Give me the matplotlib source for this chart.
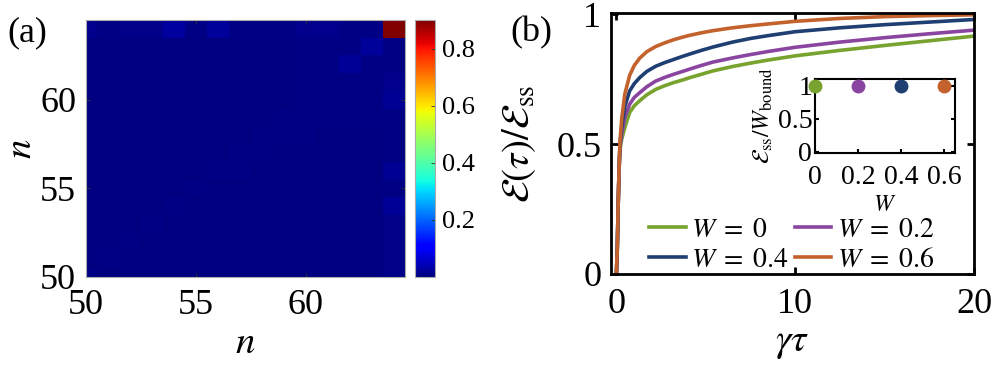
import numpy as np
import matplotlib
matplotlib.use("Agg")
import matplotlib.pyplot as plt

plt.rcParams['font.family'] = ['Liberation Serif', 'DejaVu Serif']
plt.rcParams['mathtext.fontset'] = 'stix'

# ---- panel (a): heat map, n = 50..64 on both axes ----
n_vals = np.arange(50, 65)
# rows listed from n = 64 (top) down to n = 50 (bottom), values x 1e-3
heat_rows_top_down = [
    [12, 4, 10, 10, 28, 4, 24, 5, 5, 6, 12, 12, 6, 6, 900],
    [3, 3, 3, 3, 3, 3, 3, 3, 3, 3, 4, 4, 5, 22, 6],
    [3, 3, 3, 3, 3, 3, 3, 3, 3, 3, 4, 4, 20, 5, 6],
    [3, 3, 3, 3, 3, 3, 3, 3, 3, 3, 4, 6, 5, 4, 12],
    [3, 3, 3, 3, 3, 3, 3, 3, 3, 3, 6, 5, 4, 4, 15],
    [3, 3, 3, 3, 3, 3, 3, 3, 3, 5, 5, 4, 4, 4, 7],
    [3, 3, 3, 3, 3, 3, 3, 3, 5, 4, 4, 3, 3, 3, 5],
    [3, 3, 3, 3, 3, 3, 3, 5, 4, 3, 3, 3, 3, 3, 5],
    [3, 3, 3, 3, 3, 3, 5, 4, 3, 3, 3, 3, 3, 3, 15],
    [3, 3, 3, 3, 3, 4, 3, 3, 3, 3, 3, 3, 3, 3, 6],
    [3, 3, 3, 3, 4, 3, 3, 3, 3, 3, 3, 3, 3, 3, 20],
    [3, 3, 3, 4, 3, 3, 3, 3, 3, 3, 3, 3, 3, 3, 8],
    [3, 3, 4, 3, 3, 3, 3, 3, 3, 3, 3, 3, 3, 3, 10],
    [3, 4, 3, 3, 3, 3, 3, 3, 3, 3, 3, 3, 3, 3, 8],
    [4, 3, 3, 3, 3, 3, 3, 3, 3, 3, 3, 3, 3, 3, 8],
]
cbar_ticks = [0.2, 0.4, 0.6, 0.8]

# ---- panel (b): E(tau)/E_ss vs gamma*tau ----
gamma_tau = [0, 0.05, 0.1, 0.15, 0.2, 0.3, 0.47, 0.74, 1.0, 1.3, 1.7, 2.2, 2.7, 3.2, 3.7, 4.1,
             4.7, 5.4, 6.5, 7.5, 8.5, 10, 12.5, 15, 17.5, 20]
E_W0 = [0, 0.1, 0.27, 0.40, 0.48, 0.52, 0.564, 0.622, 0.648, 0.667, 0.690, 0.711, 0.725, 0.737, 0.747, 0.756,
        0.768, 0.782, 0.799, 0.812, 0.824, 0.840, 0.861, 0.880, 0.898, 0.916]
E_W02 = [0, 0.1, 0.27, 0.40, 0.49, 0.54, 0.603, 0.654, 0.680, 0.698, 0.721, 0.743, 0.757, 0.769, 0.780, 0.789,
         0.802, 0.816, 0.832, 0.845, 0.857, 0.873, 0.893, 0.910, 0.925, 0.939]
E_W04 = [0, 0.1, 0.27, 0.41, 0.50, 0.57, 0.645, 0.705, 0.733, 0.756, 0.780, 0.800, 0.814, 0.826, 0.838, 0.847,
         0.860, 0.874, 0.893, 0.907, 0.918, 0.933, 0.948, 0.960, 0.970, 0.980]
E_W06 = [0, 0.1, 0.27, 0.41, 0.51, 0.60, 0.693, 0.765, 0.803, 0.831, 0.856, 0.876, 0.890, 0.902, 0.912, 0.919,
         0.928, 0.937, 0.948, 0.956, 0.963, 0.973, 0.984, 0.991, 0.995, 0.998]
W_vals = [0, 0.2, 0.4, 0.6]
ratio_inset = [1.0, 1.0, 1.0, 1.0]
colors = ['#77A32E', '#8A45A0', '#1F3F73', '#C4622D']
labels = ['$W\\;=\\;0$', '$W\\;=\\;0.2$', '$W\\;=\\;0.4$', '$W\\;=\\;0.6$']

fig = plt.figure(figsize=(9.96, 3.66), dpi=100)

# heat map
ax1 = fig.add_axes([0.0863, 0.2432, 0.3203, 0.7022])
Z = np.flipud(np.array(heat_rows_top_down, dtype=float)) / 1000.0
edges = np.append(n_vals - 0.5, n_vals[-1] + 0.5)
pm = ax1.pcolormesh(edges, edges, Z, cmap='jet', vmin=0, vmax=0.9)
ax1.set_xlim(50, 64.5)
ax1.set_ylim(50, 64.5)
ax1.set_xticks([50, 55, 60])
ax1.set_yticks([50, 55, 60])
ax1.tick_params(direction='in', length=3, width=0.6, labelsize=26, top=True, right=True, color='#333333')
ax1.tick_params(axis='x', pad=9)
ax1.tick_params(axis='y', pad=7)
for s in ax1.spines.values():
    s.set_color('#aaaaaa')
    s.set_linewidth(0.8)
ax1.set_xlabel('$n$', fontsize=28, labelpad=2)
ax1.set_ylabel('$n$', fontsize=28, labelpad=0)
fig.text(0.027, 0.91, '(a)', fontsize=26, ha='center', va='center')

cax = fig.add_axes([0.4167, 0.2432, 0.0201, 0.7022])
cb = fig.colorbar(pm, cax=cax, ticks=cbar_ticks)
cb.ax.tick_params(direction='in', length=3, width=0.6, labelsize=19, pad=5, color='#333333')
cb.outline.set_edgecolor('#aaaaaa')
cb.outline.set_linewidth(0.8)

# curves
ax2 = fig.add_axes([0.6135, 0.2514, 0.3645, 0.7131])
lines = []
for y, c, lab in zip([E_W0, E_W02, E_W04, E_W06], colors, labels):
    ln, = ax2.plot(gamma_tau, y, color=c, lw=2.6, label=lab)
    lines.append(ln)
ax2.set_xlim(-0.3, 20)
ax2.set_ylim(0, 1.005)
ax2.set_xticks([0, 10, 20])
ax2.set_yticks([0, 0.5, 1])
ax2.set_yticklabels(['0', '0.5', '1'])
ax2.tick_params(direction='in', length=5, width=2, labelsize=26, top=True, right=True)
ax2.tick_params(axis='x', pad=10)
ax2.tick_params(axis='y', pad=7)
for s in ax2.spines.values():
    s.set_linewidth(2)
ax2.set_xlabel('$\\gamma\\tau$', fontsize=28, labelpad=2)
ax2.set_ylabel('$\\mathcal{E}(\\tau)/\\mathcal{E}_{\\rm ss}$', fontsize=28)
ax2.yaxis.set_label_coords(-0.20, 0.5)
fig.text(0.534, 0.91, '(b)', fontsize=26, ha='center', va='center')

# row-wise order: W=0, W=0.2 on top row; W=0.4, W=0.6 below
order = [0, 2, 1, 3]
leg = ax2.legend([lines[i] for i in order], [labels[i] for i in order],
                 loc='upper left', bbox_to_anchor=(0.652, 0.405), bbox_transform=fig.transFigure,
                 ncol=2, frameon=False, fontsize=20, handlelength=1.3, handletextpad=0.2,
                 columnspacing=0.25, labelspacing=0.15, borderpad=0, borderaxespad=0)

# inset
ax3 = fig.add_axes([0.8183, 0.582, 0.1406, 0.2022])
for w, r, c in zip(W_vals, ratio_inset, colors):
    ax3.plot(w, r, 'o', color=c, ms=9, clip_on=False, zorder=5)
ax3.set_xlim(0, 0.65)
ax3.set_ylim(-0.02, 1.1)
ax3.set_xticks([0, 0.2, 0.4, 0.6])
ax3.set_xticklabels(['0', '0.2', '0.4', '0.6'])
ax3.set_yticks([0, 0.5, 1])
ax3.set_yticklabels(['0', '0.5', '1'])
ax3.tick_params(direction='in', length=3, width=1.5, labelsize=20, top=True, right=True)
ax3.tick_params(axis='x', pad=9)
ax3.tick_params(axis='y', pad=2)
for s in ax3.spines.values():
    s.set_linewidth(1.5)
ax3.set_xlabel('$W$', fontsize=17, labelpad=3)
ax3.set_ylabel('$\\mathcal{E}_{\\rm ss}/W_{\\rm bound}$', fontsize=17, labelpad=2)

fig.savefig('out.png', dpi=100)
